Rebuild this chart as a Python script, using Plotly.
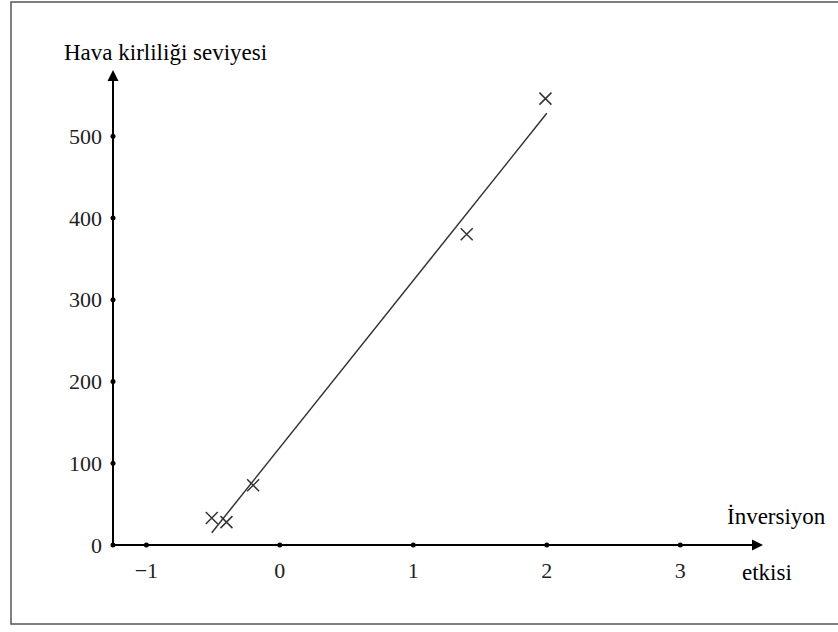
import plotly.graph_objects as go

# data
inv_x = [-0.51, -0.40, -0.20, 1.40, 1.99]
pol_y = [33, 28, 73, 380, 546]
fit_x = [-0.51, 2.0]
fit_y = [15, 528]
x_ticks = [-1, 0, 1, 2, 3]
x_ticklabels = ["−1", "0", "1", "2", "3"]
y_ticks = [0, 100, 200, 300, 400, 500]
y_ticklabels = ["0", "100", "200", "300", "400", "500"]

X0, X1 = -1.25, 3.62
Y0, Y1 = 0, 581
FONT = "Liberation Serif"

fig = go.Figure()
fig.add_trace(go.Scatter(x=fit_x, y=fit_y, mode="lines",
                         line=dict(color="#333333", width=1.5),
                         hoverinfo="skip", showlegend=False))
fig.add_trace(go.Scatter(x=inv_x, y=pol_y, mode="markers",
                         marker=dict(symbol="x-thin", size=12,
                                     line=dict(color="#333333", width=1.5)),
                         showlegend=False, cliponaxis=False))
# tick dots
fig.add_trace(go.Scatter(x=x_ticks, y=[0] * len(x_ticks), mode="markers",
                         marker=dict(color="black", size=5),
                         showlegend=False, cliponaxis=False, hoverinfo="skip"))
fig.add_trace(go.Scatter(x=[X0] * len(y_ticks), y=y_ticks, mode="markers",
                         marker=dict(color="black", size=5),
                         showlegend=False, cliponaxis=False, hoverinfo="skip"))

# axis arrows
fig.add_annotation(x=X1, y=0, ax=X0, ay=0, axref="x", ayref="y",
                   xref="x", yref="y", text="", showarrow=True,
                   arrowhead=2, arrowsize=1.1, arrowwidth=2, arrowcolor="black")
fig.add_annotation(x=X0, y=Y1, ax=X0, ay=0, axref="x", ayref="y",
                   xref="x", yref="y", text="", showarrow=True,
                   arrowhead=2, arrowsize=1.1, arrowwidth=2, arrowcolor="black")

# axis titles
fig.add_annotation(text="Hava kirliliği seviyesi", xref="paper", yref="paper",
                   x=(62 - 113) / 650, y=(545 - 52) / 475, xanchor="left",
                   yanchor="middle", showarrow=False,
                   font=dict(family=FONT, size=23, color="black"))
fig.add_annotation(text="İnversiyon", xref="paper", yref="paper",
                   x=(725 - 113) / 650, y=(545 - 516) / 475, xanchor="left",
                   yanchor="middle", showarrow=False,
                   font=dict(family=FONT, size=23, color="black"))
fig.add_annotation(text="etkisi", xref="paper", yref="paper",
                   x=(740 - 113) / 650, y=(545 - 572) / 475, xanchor="left",
                   yanchor="middle", showarrow=False,
                   font=dict(family=FONT, size=23, color="black"))

# frame
fig.add_shape(type="rect", xref="paper", yref="paper",
              x0=(11 - 113) / 650, x1=(900 - 113) / 650,
              y0=(545 - 624) / 475, y1=(545 - 2) / 475,
              line=dict(color="#555555", width=1.5), layer="below")

fig.update_layout(
    width=838, height=632,
    margin=dict(l=113, r=75, t=70, b=87),
    plot_bgcolor="white", paper_bgcolor="white",
    xaxis=dict(range=[X0, X1], showgrid=False, zeroline=False, showline=False,
               tickmode="array", tickvals=x_ticks, ticktext=x_ticklabels,
               ticks="", ticklabelstandoff=10,
               tickfont=dict(family=FONT, size=22, color="#222222")),
    yaxis=dict(range=[Y0, Y1], showgrid=False, zeroline=False, showline=False,
               tickmode="array", tickvals=y_ticks, ticktext=y_ticklabels,
               ticks="", ticklabelstandoff=10,
               tickfont=dict(family=FONT, size=22, color="#222222")),
)

fig.write_html("out.html", config={"displayModeBar": False},
               post_script="document.body.style.margin='0';document.body.style.overflow='hidden';")
